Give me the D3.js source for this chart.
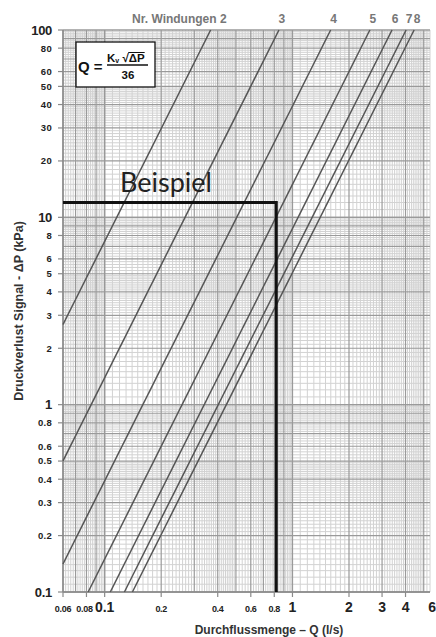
<!DOCTYPE html>
<html>
<head>
<meta charset="utf-8">
<script src="https://cdn.jsdelivr.net/npm/d3@7"></script>
<style>
  body { margin: 0; background: #fff; }
  svg { display: block; }
  text { font-family: "Liberation Sans", Arial, sans-serif; }
</style>
</head>
<body>
<div id="chart"></div>
<script>
// Kv values of each valve setting (number of turns)
const windungen = ["2", "3", "4", "5", "6", "7", "8"];
const kvWerte = [1.32, 3.05, 5.75, 9.3, 12.2, 14.5, 16.0];

// axis tick labels
const xTicks = [0.06, 0.08, 0.1, 0.2, 0.4, 0.6, 0.8, 1, 2, 3, 4, 6];
const xBig = [0.1, 1, 2, 3, 4, 6];
const yTicks = [100, 80, 60, 50, 40, 30, 20, 10, 8, 6, 5, 4, 3, 2, 1, 0.8, 0.6, 0.5, 0.4, 0.3, 0.2, 0.1];
const yBig = [100, 10, 1, 0.1];

// example reading
const beispielQ = 0.82;
const beispielDP = 12;

const width = 436, height = 637;
const margin = {top: 30, right: 6, bottom: 45, left: 63};

const svg = d3.select("#chart")
  .append("svg")
    .attr("width", width)
    .attr("height", height);

const x = d3.scaleLog()
  .domain([0.06, 5.4])
  .range([margin.left, width - margin.right]);

const y = d3.scaleLog()
  .domain([0.1, 100])
  .range([height - margin.bottom, margin.top]);

// log paper grid values
function gridValues(lo, hi) {
  const minor = [], major = [];
  for (let e = -3; e <= 3; e++) {
    const p = Math.pow(10, e);
    for (let m = 1; m < 10; m += (m < 5 - 1e-9 ? 0.1 : 0.2)) {
      const mm = Math.round(m * 10) / 10;
      const v = +(mm * p).toPrecision(6);
      if (v < lo * 0.9999 || v > hi * 1.0001) continue;
      if (Math.abs(mm - Math.round(mm)) < 1e-6) major.push(v);
      else minor.push(v);
    }
  }
  return {minor, major};
}

const gx = gridValues(0.06, 5.4);
const gy = gridValues(0.1, 100);

const grid = svg.append("g").attr("class", "grid");

grid.selectAll(".vminor").data(gx.minor).join("line")
  .attr("x1", d => x(d)).attr("x2", d => x(d))
  .attr("y1", y(100)).attr("y2", y(0.1))
  .attr("stroke", "#d2d2d2").attr("stroke-width", 1);

grid.selectAll(".hminor").data(gy.minor).join("line")
  .attr("y1", d => y(d)).attr("y2", d => y(d))
  .attr("x1", x(0.06)).attr("x2", x(5.4))
  .attr("stroke", "#d2d2d2").attr("stroke-width", 1);

grid.selectAll(".vmajor").data(gx.major).join("line")
  .attr("x1", d => x(d)).attr("x2", d => x(d))
  .attr("y1", y(100)).attr("y2", y(0.1))
  .attr("stroke", "#9a9a9a").attr("stroke-width", 1.2);

grid.selectAll(".hmajor").data(gy.major).join("line")
  .attr("y1", d => y(d)).attr("y2", d => y(d))
  .attr("x1", x(0.06)).attr("x2", x(5.4))
  .attr("stroke", "#9a9a9a").attr("stroke-width", 1.2);

// frame: left and bottom
svg.append("line")
  .attr("x1", x(0.06)).attr("x2", x(0.06))
  .attr("y1", y(100)).attr("y2", y(0.1))
  .attr("stroke", "#8a8a8a").attr("stroke-width", 1.5);
svg.append("line")
  .attr("x1", x(0.06)).attr("x2", x(5.4))
  .attr("y1", y(0.1)).attr("y2", y(0.1))
  .attr("stroke", "#8a8a8a").attr("stroke-width", 1.5);

// y ticks and labels
svg.selectAll(".ytick").data(yTicks).join("line")
  .attr("x1", margin.left - 5).attr("x2", margin.left)
  .attr("y1", d => y(d)).attr("y2", d => y(d))
  .attr("stroke", "#8a8a8a").attr("stroke-width", 1.2);

svg.selectAll(".ylabel").data(yTicks).join("text")
  .attr("x", 52)
  .attr("y", d => y(d))
  .attr("dy", "0.36em")
  .attr("text-anchor", "end")
  .attr("font-weight", "bold")
  .attr("font-size", d => yBig.includes(d) ? "13px" : "9.5px")
  .attr("letter-spacing", d => yBig.includes(d) ? "-0.3px" : "0.3px")
  .attr("fill", "#222")
  .text(d => d);

// x ticks and labels
svg.selectAll(".xtick").data(xTicks.filter(d => d <= 5.4)).join("line")
  .attr("x1", d => x(d)).attr("x2", d => x(d))
  .attr("y1", y(0.1)).attr("y2", y(0.1) + 5)
  .attr("stroke", "#8a8a8a").attr("stroke-width", 1.2);

svg.selectAll(".xlabel").data(xTicks).join("text")
  .attr("x", d => d > 5.4 ? width : x(d))
  .attr("dx", d => d === 0.08 ? -2 : 0)
  .attr("y", 612)
  .attr("text-anchor", d => d > 5.4 ? "end" : "middle")
  .attr("font-weight", "bold")
  .attr("font-size", d => xBig.includes(d) ? "14px" : "9px")
  .attr("letter-spacing", d => xBig.includes(d) ? "0px" : "-0.3px")
  .attr("fill", "#222")
  .text(d => d);

// curves: Q = Kv * sqrt(dP) / 36  ->  dP = (36 Q / Kv)^2
const line = d3.line()
  .x(d => x(d[0]))
  .y(d => y(d[1]));

const kurven = kvWerte.map(function(kv) {
  const qLo = Math.max(0.06, kv * Math.sqrt(0.1) / 36);
  const qHi = Math.min(5.4, kv * 10 / 36);
  return [qLo, qHi].map(q => [q, Math.pow(36 * q / kv, 2)]);
});

svg.selectAll(".kurve").data(kurven).join("path")
  .attr("class", "kurve")
  .attr("d", line)
  .attr("fill", "none")
  .attr("stroke", "#555")
  .attr("stroke-width", 1.5);

// top labels (Nr. Windungen)
svg.selectAll(".wlabel").data(windungen).join("text")
  .attr("x", (d, i) => i === 0 ? x(kvWerte[i] * 10 / 36) + 16 : x(kvWerte[i] * 10 / 36) + 3)
  .attr("y", 22.5)
  .attr("text-anchor", (d, i) => i === 0 ? "end" : "middle")
  .attr("font-weight", "bold")
  .attr("font-size", "12px")
  .attr("fill", "#777")
  .text((d, i) => i === 0 ? "Nr. Windungen " + d : d);

// example
svg.append("path")
  .attr("d", `M${x(0.06)},${y(beispielDP)}H${x(beispielQ)}V${y(0.1)}`)
  .attr("fill", "none")
  .attr("stroke", "#111")
  .attr("stroke-width", 3);

svg.append("text")
  .attr("x", 120)
  .attr("y", 192)
  .attr("font-size", "27px")
  .attr("fill", "#222")
  .style("font-family", "Lato, 'Open Sans', sans-serif")
  .text("Beispiel");

// formula box
const box = svg.append("g");
box.append("rect")
  .attr("x", 76).attr("y", 42)
  .attr("width", 79).attr("height", 45)
  .attr("fill", "#fff")
  .attr("stroke", "#111")
  .attr("stroke-width", 1.3);

box.append("text")
  .attr("x", 78).attr("y", 71.5)
  .attr("font-weight", "bold").attr("font-size", "15px").attr("fill", "#111")
  .text("Q =");

const zaehler = box.append("text")
  .attr("x", 107).attr("y", 62)
  .attr("font-weight", "bold").attr("font-size", "11.5px").attr("fill", "#111");
zaehler.append("tspan").text("K");
zaehler.append("tspan").attr("font-size", "7px").attr("dy", 1).text("v");
zaehler.append("tspan").attr("dy", -1).text(" \u221A");
const dpStart = 107 + zaehler.node().getComputedTextLength();
const dpText = box.append("text")
  .attr("x", dpStart).attr("y", 62)
  .attr("font-weight", "bold").attr("font-size", "11.5px").attr("fill", "#111")
  .text("\u0394P");
const dpLen = dpText.node().getComputedTextLength();
box.append("line")
  .attr("x1", dpStart - 0.5).attr("x2", dpStart + dpLen)
  .attr("y1", 52.5).attr("y2", 52.5)
  .attr("stroke", "#111").attr("stroke-width", 1);

box.append("line")
  .attr("x1", 107).attr("x2", 148)
  .attr("y1", 65).attr("y2", 65)
  .attr("stroke", "#111").attr("stroke-width", 1.5);

box.append("text")
  .attr("x", 128).attr("y", 78.5)
  .attr("text-anchor", "middle")
  .attr("font-weight", "bold").attr("font-size", "11.5px").attr("fill", "#111")
  .text("36");

// axis titles
svg.append("text")
  .attr("x", 269).attr("y", 634)
  .attr("text-anchor", "middle")
  .attr("font-weight", "bold").attr("font-size", "12px").attr("fill", "#333")
  .text("Durchflussmenge \u2013 Q (l/s)");

svg.append("text")
  .attr("transform", "translate(23,311) rotate(-90)")
  .attr("text-anchor", "middle")
  .attr("font-weight", "bold").attr("font-size", "12.5px").attr("fill", "#333")
  .text("Druckverlust Signal - \u0394P (kPa)");
</script>
</body>
</html>
